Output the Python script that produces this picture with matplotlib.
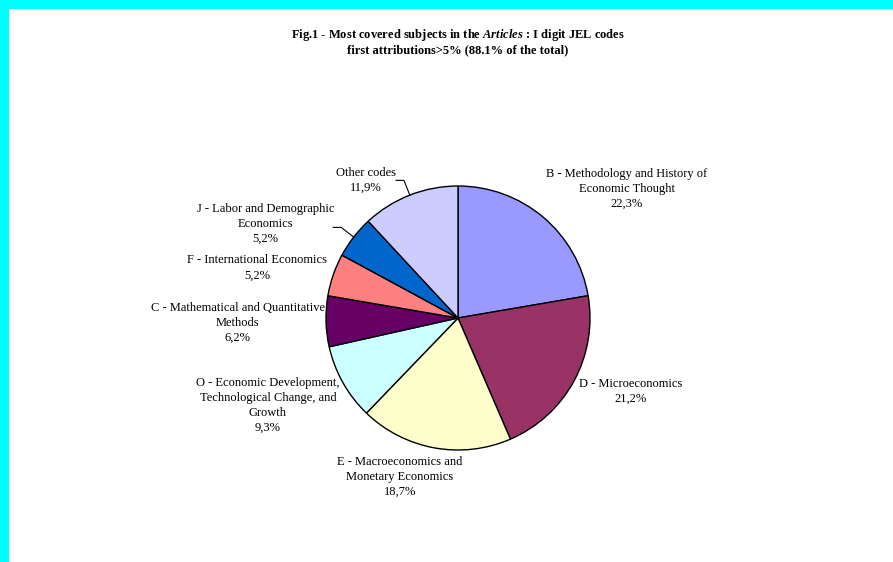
import matplotlib.pyplot as plt
from matplotlib.patches import Rectangle
import numpy as np

labels = ['B - Methodology and History of\nEconomic Thought',
          'D - Microeconomics',
          'E - Macroeconomics and\nMonetary Economics',
          'O - Economic Development,\nTechnological Change, and\nGrowth',
          'C - Mathematical and Quantitative\nMethods',
          'F - International Economics',
          'J - Labor and Demographic\nEconomics',
          'Other codes']
shares = [22.3, 21.2, 18.7, 9.3, 6.2, 5.2, 5.2, 11.9]
colors = ['#9999FF', '#993366', '#FFFFCC', '#CCFFFF', '#660066',
          '#FF8080', '#0066CC', '#CCCCFF']

# label centres in pie-radius units (centre of pie = 0,0)
label_pos = [(1.28, 0.98), (1.31, -0.555), (-0.44, -1.205), (-1.44, -0.66),
             (-1.67, -0.04), (-1.52, 0.38), (-1.46, 0.71), (-0.70, 1.045)]

plt.rcParams['font.family'] = 'Liberation Serif'
plt.rcParams['mathtext.fontset'] = 'custom'
plt.rcParams['mathtext.it'] = 'Liberation Serif:bold:italic'
plt.rcParams['mathtext.rm'] = 'Liberation Serif:bold'

W, H = 893, 562
cx, cy, R = 458, 318, 132
fig = plt.figure(figsize=(W / 100, H / 100), dpi=100)
ax = fig.add_axes([0, 0, 1, 1])

wedges, _ = ax.pie(shares, colors=colors, startangle=90, counterclock=False,
                   radius=1, wedgeprops=dict(edgecolor='black', linewidth=1))
ax.set_xlim(-cx / R, (W - cx) / R)
ax.set_ylim(-(H - cy) / R, cy / R)
ax.set_aspect('auto')
ax.axis('off')

for w, lab, val, (lx, ly) in zip(wedges, labels, shares, label_pos):
    ax.text(lx, ly, lab + '\n' + ('%.1f' % val).replace('.', ',') + '%',
            ha='center', va='center', fontsize=9.0, linespacing=1.32)

# leader lines for the two upper-left labels
for i in (6, 7):
    w = wedges[i]
    a = np.deg2rad((w.theta1 + w.theta2) / 2)
    x0, y0 = np.cos(a), np.sin(a)
    x1, y1 = 1.12 * np.cos(a), 1.12 * np.sin(a)
    ax.plot([x0, x1, x1 - 0.06], [y0, y1, y1], color='black', lw=0.8)

fig.text(458 / W, 1 - 35 / H,
         r'Fig.1 - Most covered subjects in the $Articles$ : I digit JEL codes',
         ha='center', va='center', fontsize=9, fontweight='bold')
fig.text(458 / W, 1 - 50 / H, 'first attributions>5% (88.1% of the total)',
         ha='center', va='center', fontsize=9, fontweight='bold')

fig.add_artist(Rectangle((0, 1 - 9 / H), 1, 9 / H, transform=fig.transFigure,
                         color='#00FFFF', lw=0))
fig.add_artist(Rectangle((0, 0), 9 / W, 1, transform=fig.transFigure,
                         color='#00FFFF', lw=0))

fig.savefig('out.png', dpi=100)
